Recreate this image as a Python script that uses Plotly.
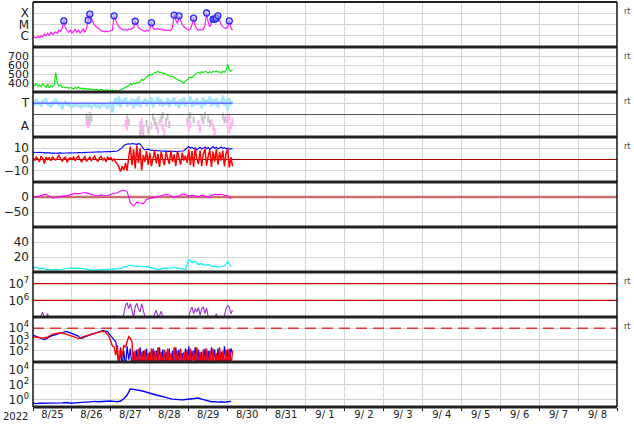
import pandas as pd
import plotly.graph_objects as go
from plotly.subplots import make_subplots

START = pd.Timestamp("2022-08-25 00:00")
END = pd.Timestamp("2022-09-09 00:00")

date_labels = ["8/25", "8/26", "8/27", "8/28", "8/29", "8/30", "8/31", "9/ 1",
               "9/ 2", "9/ 3", "9/ 4", "9/ 5", "9/ 6", "9/ 7", "9/ 8"]
label_days = ["2022-08-25", "2022-08-26", "2022-08-27", "2022-08-28", "2022-08-29",
              "2022-08-30", "2022-08-31", "2022-09-01", "2022-09-02", "2022-09-03",
              "2022-09-04", "2022-09-05", "2022-09-06", "2022-09-07", "2022-09-08"]

# sample hours since 2022-08-25 00:00
hours_1h = list(range(124))
hours_2h = list(range(0, 124, 2))

# Panel 1: X-ray flux (log10 W/m2)
xray_log = [-6.15, -6.1, -6.2, -6.05, -6.15, -6.0, -6.1, -5.85, -6.0, -5.8,
            -5.95, -5.7, -5.9, -5.75, -5.65, -5.8, -5.5, -5.6, -5.35, -4.68,
            -5.3, -5.55, -5.7, -5.5, -5.75, -5.6, -5.45, -5.7, -5.5, -5.75,
            -5.55, -5.4, -5.7, -5.35, -4.62, -4.07, -4.5, -4.85, -5.05, -5.2,
            -5.35, -5.45, -5.55, -5.6, -5.65, -5.6, -5.65, -5.6, -5.55, -5.5,
            -4.23, -4.7, -5.0, -5.2, -5.35, -5.45, -5.5, -5.45, -5.5, -5.4,
            -5.45, -5.35, -5.3, -4.71, -5.0, -5.25, -5.4, -5.5, -5.55, -5.6,
            -5.5, -5.6, -5.45, -4.84, -5.3, -5.45, -5.4, -5.35, -5.45, -5.4,
            -5.5, -5.45, -5.55, -5.5, -5.55, -5.5, -5.3, -4.16, -4.6, -4.9,
            -4.23, -4.7, -5.0, -5.2, -5.35, -5.45, -5.5, -5.4, -5.0, -4.44,
            -5.1, -5.4, -5.5, -5.45, -5.5, -5.4, -5.1, -3.98, -4.8, -5.2,
            -4.8, -4.53, -4.53, -4.44, -4.23, -4.7, -5.0, -5.2, -5.3, -5.35,
            -5.2, -4.68, -5.3, -5.5]
flare_hours = [19, 34, 35, 50, 63, 73, 87, 90, 99, 107, 111, 112, 113, 114, 121]
flare_log = [-4.68, -4.62, -4.07, -4.23, -4.71, -4.84, -4.16, -4.23, -4.44, -3.98,
             -4.53, -4.53, -4.44, -4.23, -4.68]

# Panel 2: solar wind speed (km/s)
wind_speed = [385, 370, 395, 360, 380, 355, 390, 370, 350, 385, 345, 375, 360, 370,
              515, 400, 365, 380, 350, 360, 345, 355, 340, 350,
              345, 335, 350, 340, 355, 335, 345, 330, 340, 335,
              330, 340, 325, 330, 320, 330, 325, 320, 330, 325, 315, 325,
              320, 315, 310, 320, 312, 318, 310, 315,
              325, 335, 345, 350, 360, 370,
              395, 380, 400, 390, 405, 400, 410, 440,
              430, 455, 470, 480, 495, 490, 505, 515, 520, 530, 515,
              520, 505, 510, 495, 490, 480, 470, 475, 460, 450, 440, 430, 420, 410, 400,
              420, 440, 450, 465, 460, 480,
              500, 510, 520, 505, 525, 515, 530,
              520, 510, 525, 515, 530, 520, 535, 520, 525,
              510, 530, 520, 540,
              610, 545, 530, 550]

# Panel 3: IMF sector (T = toward, A = away)
sector_toward = [0.80, 0.70, 0.85, 0.72, 0.78, 0.68, 0.82, 0.74, 0.86, 0.70, 0.76, 0.66,
                 0.80, 0.72, 0.84, 0.75, 0.70, 0.78, 0.62, 0.74, 0.80, 0.70, 0.76, 0.68,
                 0.72, 0.66, 0.74, 0.70, 0.68, 0.73, 0.66, 0.71, 0.69, 0.74, 0.68, 0.72,
                 0.66, 0.70, 0.74, 0.68, 0.72, 0.64, 0.70, 0.76, 0.68, 0.73, 0.62, 0.70,
                 0.80, 0.55, 0.78, 0.86, 0.70, 0.90, 0.66, 0.82, 0.74, 0.88, 0.68, 0.80,
                 0.72, 0.86, 0.64, 0.84, 0.70, 0.90, 0.66, 0.80, 0.74, 0.86, 0.68, 0.82,
                 0.72, 0.88, 0.66, 0.80, 0.74, 0.90, 0.70, 0.84, 0.68, 0.78, 0.72, 0.86,
                 0.66, 0.82, 0.74, 0.88, 0.70, 0.80, 0.64, 0.84, 0.72, 0.88, 0.68, 0.80,
                 0.74, 0.90, 0.66, 0.82, 0.70, 0.86, 0.72, 0.80, 0.64, 0.88, 0.70, 0.82,
                 0.74, 0.90, 0.68, 0.84, 0.72, 0.86, 0.66, 0.80, 0.74, 0.92, 0.70, 0.84,
                 0.60, 0.86, 0.72, 0.80]
away_gray_hours = [33, 34, 35, 35, 36, 58, 59, 66, 67, 68, 70, 71, 74, 75, 76,
                   79, 80, 82, 83, 84, 96, 97, 99, 104, 105, 106, 108, 109, 117, 118]
away_gray_vals = [0.45, 0.38, 0.48, 0.34, 0.42, 0.40, 0.33, 0.10, 0.20, 0.05, 0.30, 0.15,
                  0.45, 0.35, 0.25, 0.40, 0.48, 0.35, 0.45, 0.28, 0.42, 0.48, 0.38,
                  0.44, 0.36, 0.48, 0.40, 0.30, 0.46, 0.38]
away_pink_hours = [33, 34, 57, 58, 58, 66, 67, 67, 68, 73, 77, 78, 80, 81, 82,
                   95, 96, 97, 102, 103, 110, 111, 112, 119, 120, 121, 121, 122, 123]
away_pink_vals = [0.32, 0.28, 0.30, 0.22, 0.36, 0.28, 0.12, 0.35, 0.20, 0.25, 0.15, 0.32,
                  0.22, 0.10, 0.30, 0.35, 0.20, 0.28, 0.30, 0.18, 0.32, 0.22, 0.12,
                  0.40, 0.30, 0.15, 0.45, 0.25, 0.35]
toward_level = 0.75

# Panel 4: IMF Bt (blue) and Bz (red), nT
imf_bt = [6.5, 6.3, 6.6, 6.2, 6.4, 6.0, 6.2, 5.9, 6.1, 5.8, 6.0, 5.7, 5.9, 5.8, 5.6, 5.8, 5.7, 5.9, 5.6, 5.8, 5.7, 5.9, 5.8, 6.0,
          5.8, 6.0, 5.9, 6.1, 6.0, 6.2, 6.1, 6.3, 6.2, 6.4, 6.3, 6.5, 6.4, 6.6, 6.5, 6.7, 6.6, 6.8, 6.7, 6.9, 6.8, 7.0, 6.9, 7.1,
          7.0, 7.2, 7.1, 7.3, 7.6, 8.5, 9.5, 10.5, 12.5, 13.5, 13.8, 14.0, 13.6, 14.2, 13.8, 14.0, 13.5, 14.1, 13.7, 12.0, 9.5, 8.5, 8.8, 9.2,
          8.6, 8.0, 8.4, 7.8, 8.2, 7.6, 8.0, 7.4, 7.8, 7.2, 7.6, 7.0, 7.4, 7.1, 7.5, 6.9, 7.3, 7.0, 7.4, 7.2, 7.6, 7.8, 9.0, 10.5,
          11.5, 10.0, 11.0, 9.5, 10.5, 8.5, 9.8, 10.8, 9.2, 10.2, 11.2, 9.6, 10.6, 9.0, 10.2, 11.5, 10.0, 11.0, 9.4, 10.4, 11.2, 9.8, 10.6, 9.5,
          10.2, 9.0, 9.8, 9.5]
imf_bz = [1.5, -1.0, 2.5, 0.5, -2.0, 3.0, 1.0, -3.5, 2.0, 0.0, 1.5, -1.0, 2.5, 0.5, -0.5, 1.5, 3.5, 0.5, -1.5, 1.0, 2.0, -2.5, 0.5, 1.5,
          0.0, 2.0, -1.0, 1.5, 3.0, 0.0, -2.0, 1.0, 2.5, -1.5, 0.5, 2.0, -1.0, 1.0, 3.0, 0.0, -1.5, 1.5, 2.5, -0.5, 1.0, -2.0, 2.0, 0.5,
          1.5, -1.0, 0.5, -2.5, -4.0, -7.0, -10.8, -6.0, -9.5, -3.0, -10.0, 2.0, 11.5, -5.0, 9.0, -8.0, 12.5, -3.0, 10.0, -9.8, 4.0, -2.0, 7.5, -4.5,
          6.0, -6.0, 3.0, 8.0, -3.5, 5.0, -6.5, 7.0, 0.0, -5.0, 6.5, 2.0, -4.0, 8.0, -2.0, 4.5, -6.0, 7.5, 1.0, -4.5, 6.0, -1.0, 3.5, -3.0,
          9.0, -5.0, 7.5, -6.5, 10.0, 0.5, -4.0, 8.0, -6.0, 5.0, 9.5, -5.5, 3.0, 8.5, -6.5, 7.0, -2.0, 9.0, -4.5, 6.5, -1.0, 8.0, -6.0, 5.5,
          9.0, -7.0, 2.0, -6.0]

# Panel 5: Dst index (nT), 2-hourly
dst = [-1, 0, 2, 7, 9, 3, -4, -1, 2, 3, 3, 6, 11, 12, 11, 13, 15, 12, 8, 5,
       4, 7, 5, 4, 9, 12, 14, 20, 23, 18, -19, -30, -17, -20, -22, -8, -4, -2, 0, 4,
       6, 9, 7, 0, 1, 3, 10, 8, 3, 6, 4, 0, 6, 3, -1, 5, 9, 8, 9, 6,
       4, -6]

# Panel 6: cyan series, 2-hourly
cyan_vals = [5, 6.5, 4, 5, 3, 3.5, 2.8, 3.5, 3, 4, 4.5, 5, 5.5, 4.8, 5.2, 4.5, 3.5, 3, 2.8, 2.5,
             3, 2.8, 3.2, 3.5, 3.6, 4, 3.5, 4.5, 6.5, 8, 9.3, 8, 7.5, 8, 7, 7.5, 6, 5, 3.8, 3.6,
             4.5, 5.5, 5, 6, 5.5, 5, 4, 3.6, 16, 13, 14, 10, 11, 9, 10, 8, 7.5, 6.5, 7, 8,
             14, 7]

# Panel 7: purple series (log10)
purple_log = [4.6, 4.6, 4.6, 4.6, 4.7, 5.1, 5.3, 4.8, 4.9, 5.2,
              4.8, 4.6, 4.6, 4.6, 4.6, 4.6, 4.6, 4.6, 4.6, 4.6,
              4.6, 4.6, 4.6, 4.6, 4.6, 4.6, 4.6, 4.6, 4.6, 4.6,
              4.6, 4.6, 4.6, 4.6, 4.6, 4.6, 4.6, 4.6, 4.6, 4.6,
              4.6, 4.6, 4.6, 4.6, 4.6, 4.6, 4.6, 4.6, 4.6, 4.9,
              5.1, 4.8, 4.6, 4.6, 4.6, 4.8, 5.2, 5.7, 5.86, 5.5,
              5.8, 5.3, 5.0, 5.6, 5.82, 5.5, 5.3, 5.8, 5.2, 4.8,
              4.6, 4.6, 4.6, 4.6, 4.8, 5.2, 5.4, 5.0, 5.1, 5.35,
              5.0, 4.7, 4.6, 4.6, 4.6, 4.6, 4.6, 4.6, 4.6, 4.6,
              4.6, 4.6, 4.6, 4.6, 4.6, 4.6, 5.0, 5.4, 5.6, 5.2,
              5.5, 5.3, 5.58, 5.1, 5.5, 5.6, 5.2, 5.55, 5.0, 4.7,
              4.6, 4.6, 4.9, 5.2, 4.8, 4.6, 4.6, 4.7, 5.1, 5.5,
              5.7, 5.6, 5.2, 5.4]

# Panel 8: blue and red series (log10)
flux_blue_log = [3.4, 3.35, 3.3, 3.25, 3.2, 3.15, 3.1, 3.0, 3.05, 3.15,
                 3.2, 3.3, 3.35, 3.4, 3.45, 3.5, 3.55, 3.6, 3.65, 3.68,
                 3.7, 3.7, 3.65, 3.6, 3.55, 3.5, 3.45, 3.4, 3.3, 3.15,
                 3.1, 3.15, 3.25, 3.3, 3.35, 3.4, 3.45, 3.5, 3.55, 3.6,
                 3.65, 3.7, 3.75, 3.78, 3.76, 3.72, 3.7, 3.5, 3.3, 3.2,
                 2.9, 2.8, 1.8, 0.5, 2.3, 0.6, 2.0, 0.5, 2.4, 1.2,
                 2.2, 0.5, 1.9, 0.6, 2.1, 0.5, 2.3, 1.0, 2.0, 0.5,
                 2.2, 0.5, 1.9, 0.6, 2.2, 0.5, 2.0, 1.1, 2.3, 0.5,
                 2.1, 0.5, 1.9, 0.7, 2.2, 0.5, 2.0, 0.5, 2.3, 1.0,
                 2.1, 0.5, 1.8, 0.5, 2.2, 0.6, 2.4, 0.5, 2.0, 1.2,
                 2.3, 0.5, 2.1, 0.5, 1.9, 0.8, 2.2, 0.5, 2.0, 0.5,
                 2.3, 1.0, 2.1, 0.5, 2.2, 0.6, 1.9, 0.5, 2.4, 0.9,
                 2.1, 0.5, 2.2, 1.8]
flux_red_log = [3.25, 3.22, 3.2, 3.18, 3.15, 3.15, 3.12, 3.15, 3.15, 3.2,
                3.3, 3.4, 3.45, 3.5, 3.55, 3.55, 3.58, 3.6, 3.58, 3.55,
                3.5, 3.45, 3.4, 3.35, 3.3, 3.25, 3.2, 3.15, 3.1, 3.12,
                3.2, 3.25, 3.3, 3.35, 3.4, 3.45, 3.5, 3.55, 3.6, 3.62,
                3.65, 3.68, 3.7, 3.72, 3.72, 3.6, 3.45, 3.2, 2.8, 2.4,
                2.36, 1.6, 2.5, 0.5, 2.2, 1.5, 2.5, 2.3, 2.8, 3.25,
                3.1, 2.8, 0.5, 2.0, 0.5, 2.2, 0.6, 1.9, 0.5, 2.1,
                0.5, 1.8, 0.5, 2.2, 0.7, 2.0, 0.5, 2.3, 0.5, 1.9,
                0.6, 2.1, 0.5, 2.2, 0.5, 1.8, 0.5, 2.3, 0.8, 2.0,
                0.5, 2.2, 0.5, 1.9, 0.6, 2.1, 0.5, 2.2, 0.5, 2.0,
                0.7, 2.3, 0.5, 1.9, 0.5, 2.1, 0.5, 2.2, 0.6, 2.0,
                0.5, 2.2, 0.5, 1.8, 0.5, 2.3, 0.5, 2.0, 0.6, 2.1,
                0.5, 2.2, 0.5, 2.0]
flux_threshold = 1e4

# Panel 9: blue series (log10), 2-hourly
electron_log = [-0.5, -0.55, -0.5, -0.5, -0.55, -0.5, -0.45, -0.5, -0.5, -0.45,
                -0.4, -0.45, -0.5, -0.45, -0.4, -0.4, -0.35, -0.35, -0.3, -0.25,
                -0.3, -0.25, -0.2, -0.25, -0.2, -0.25, -0.3, -0.2, 0.1, 0.6,
                1.4, 1.35, 1.3, 1.2, 1.1, 0.95, 0.85, 0.7, 0.6, 0.5,
                0.35, 0.25, 0.15, 0.05, 0.0, -0.05, -0.05, 0.0, 0.05, 0.15,
                0.2, 0.2, 0.05, -0.1, -0.2, -0.3, -0.3, -0.35, -0.3, -0.35,
                -0.3, -0.25]

for name, arr, n in [("xray", xray_log, 124), ("wind", wind_speed, 124), ("toward", sector_toward, 124),
                     ("bt", imf_bt, 124), ("bz", imf_bz, 124), ("dst", dst, 62), ("cyan", cyan_vals, 62),
                     ("purple", purple_log, 124), ("fb", flux_blue_log, 124), ("fr", flux_red_log, 124),
                     ("el", electron_log, 62)]:
    assert len(arr) == n, (name, len(arr))
assert len(away_gray_hours) == len(away_gray_vals)
assert len(away_pink_hours) == len(away_pink_vals)


def times(hours):
    return [START + pd.Timedelta(hours=h) for h in hours]


def pow10(vals):
    return [10 ** v for v in vals]


t1 = times(hours_1h)
t2 = times(hours_2h)

fig = make_subplots(rows=9, cols=1, shared_xaxes=True, vertical_spacing=0)


def line(row, x, y, color, width=1.0, dash=None):
    fig.add_trace(go.Scatter(x=x, y=y, mode="lines",
                             line=dict(color=color, width=width, dash=dash),
                             hoverinfo="skip", showlegend=False), row=row, col=1)


def hline(row, y, color, width=1.2, dash=None):
    line(row, [START, END], [y, y], color, width, dash)


# Panel 1
line(1, t1, pow10(xray_log), "#ff1aff", 1.2)
fig.add_trace(go.Scatter(x=times(flare_hours), y=pow10(flare_log), mode="markers",
                         marker=dict(symbol="circle", size=6, color="rgba(170,170,255,0.55)",
                                     line=dict(color="#2a2aff", width=1.3)),
                         showlegend=False), row=1, col=1)
# Panel 2
line(2, t1, wind_speed, "#00e600", 1.1)
# Panel 3
line(3, t1, sector_toward, "#a6e6fa", 2.6)
fig.add_trace(go.Scatter(x=times(away_gray_hours), y=away_gray_vals, mode="markers",
                         marker=dict(symbol="line-ns", size=5, line=dict(color="#c4c4c4", width=2)),
                         showlegend=False), row=3, col=1)
fig.add_trace(go.Scatter(x=times(away_pink_hours), y=away_pink_vals, mode="markers",
                         marker=dict(symbol="line-ns", size=5, line=dict(color="#ffb0f2", width=2)),
                         showlegend=False), row=3, col=1)
line(3, [t1[0], t1[-1]], [toward_level, toward_level], "#6a6aff", 1.5)
# Panel 4
hline(4, 0, "#a00000", 1.2)
line(4, t1, imf_bt, "#0000ff", 1.1)
line(4, t1, imf_bz, "#ff0000", 1.5)
# Panel 5
hline(5, 0, "rgba(190,70,70,0.75)", 2.6)
line(5, t2, dst, "#ff00ff", 1.1)
# Panel 6
line(6, t2, cyan_vals, "#00f0f0", 1.2)
# Panel 7
hline(7, 1e6, "#c00000", 1.2)
hline(7, 1e7, "#c00000", 1.2)
line(7, t1, pow10(purple_log), "#9a32cd", 1.1)
# Panel 8
hline(8, flux_threshold, "#e03a3a", 1.6, "11px,6px")
line(8, t1, pow10(flux_blue_log), "#0000ff", 1.2)
line(8, t1, pow10(flux_red_log), "#ff0000", 1.4)
# Panel 9
line(9, t2, pow10(electron_log), "#0000ff", 1.4)

GRID = "#d4d4d4"
TICKFONT = dict(family="DejaVu Sans", size=12, color="#222222")

fig.update_xaxes(range=[START, END], tickmode="array",
                 tickvals=[pd.Timestamp(d) + pd.Timedelta(hours=12) for d in label_days],
                 ticktext=date_labels, showgrid=False, ticks="", zeroline=False, showline=False,
                 tickfont=dict(family="DejaVu Sans", size=10, color="#222222"),
                 minor=dict(tick0="2022-08-25", dtick=86400000, showgrid=True,
                            gridcolor=GRID, gridwidth=1, ticks=""))
fig.update_xaxes(row=9, col=1, showticklabels=True,
                 minor=dict(tick0="2022-08-25", dtick=86400000, showgrid=True,
                            gridcolor=GRID, gridwidth=1, ticks="outside", ticklen=3,
                            tickcolor="#222222"))

ycfg = [
    dict(type="log", range=[-7, -3], tickvals=[1e-6, 1e-5, 1e-4], ticktext=["C", "M", "X"]),
    dict(range=[300, 800], tickvals=[400, 500, 600, 700], ticktext=["400", "500", "600", "700"],
         tickfont=dict(family="DejaVu Sans", size=11, color="#222222")),
    dict(range=[0, 1], tickvals=[0.25, 0.75], ticktext=["A", "T"]),
    dict(range=[-20, 20], tickvals=[-10, 0, 10], ticktext=["\u221210", "0", "10"]),
    dict(range=[-100, 50], tickvals=[-50, 0], ticktext=["\u221250", "0"]),
    dict(range=[0, 60], tickvals=[20, 40], ticktext=["20", "40"]),
    dict(type="log", range=[5, 7.7], tickvals=[1e6, 1e7],
         ticktext=["10<sup>6</sup>", "10<sup>7</sup>"]),
    dict(type="log", range=[1, 5], tickvals=[1e2, 1e3, 1e4],
         ticktext=["10<sup>2</sup>", "10<sup>3</sup>", "10<sup>4</sup>"]),
    dict(type="log", range=[-1, 5], tickvals=[1, 1e2, 1e4],
         ticktext=["10<sup>0</sup>", "10<sup>2</sup>", "10<sup>4</sup>"]),
]
for i, cfg in enumerate(ycfg, start=1):
    opts = dict(tickmode="array", showgrid=True, gridcolor=GRID, gridwidth=1,
                zeroline=False, showline=False, ticks="", tickfont=TICKFONT,
                ticklabelstandoff=3)
    opts.update(cfg)
    fig.update_yaxes(row=i, col=1, **opts)

shapes = []
for k in range(10):
    y = k / 9
    shapes.append(dict(type="line", xref="paper", yref="paper", x0=0, x1=1, y0=y, y1=y,
                       line=dict(color="#222222", width=2 if k == 9 else 3)))
for xv in (0, 1):
    shapes.append(dict(type="line", xref="paper", yref="paper", x0=xv, x1=xv, y0=0, y1=1,
                       line=dict(color="#111111", width=1.5)))
# T/A divider in panel 3
shapes.append(dict(type="line", xref="paper", yref="paper", x0=0, x1=1,
                   y0=6.5 / 9, y1=6.5 / 9, line=dict(color="#555555", width=1)))

annotations = []
for panel in (0, 1, 2, 3, 6, 7):
    annotations.append(dict(text="rt", xref="paper", yref="paper", x=1, y=1 - (panel * 45 + 9.5) / 405,
                            xanchor="left", yanchor="middle", xshift=5, showarrow=False,
                            font=dict(family="DejaVu Sans", size=8, color="#444444")))
annotations.append(dict(text="2022", xref="paper", yref="paper", x=-3 / 584, y=-9.5 / 405,
                        xanchor="right", yanchor="middle", showarrow=False,
                        font=dict(family="DejaVu Sans", size=10, color="#222222")))

fig.update_layout(width=634, height=424, margin=dict(l=33, r=17, t=2, b=17),
                  paper_bgcolor="white", plot_bgcolor="white", showlegend=False,
                  font=dict(family="DejaVu Sans", color="#222222"),
                  shapes=shapes, annotations=annotations)

fig.write_html("out.html", config={"displayModeBar": False},
               post_script="document.body.style.margin='0';document.body.style.padding='0';")
